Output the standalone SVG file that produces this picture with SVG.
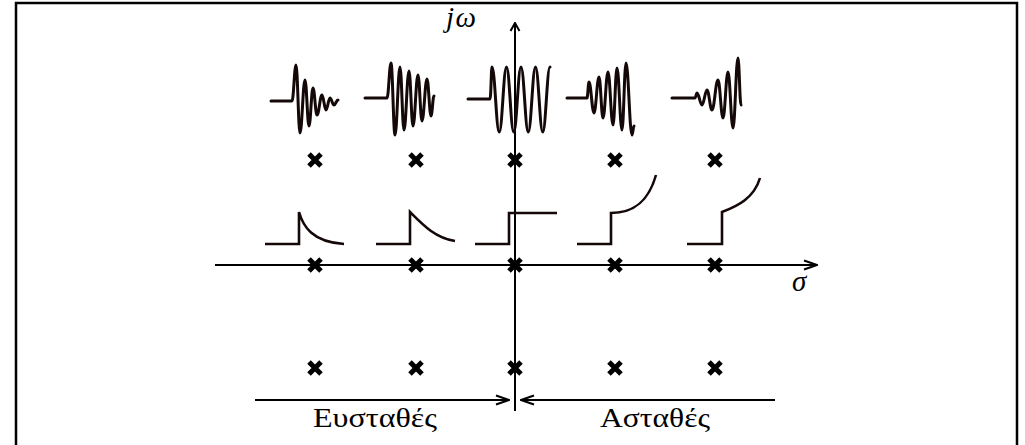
<svg xmlns="http://www.w3.org/2000/svg" width="1025" height="445" viewBox="0 0 1025 445">
<style>
.frame{fill:none;stroke:#000;stroke-width:2.5}
.ax{fill:none;stroke:#000;stroke-width:2}
.sig{fill:none;stroke:#140808;stroke-width:3;stroke-linejoin:round;stroke-linecap:round}
.step{fill:none;stroke:#140808;stroke-width:2.6;stroke-linejoin:miter}
.pole{stroke:#000;stroke-width:5;fill:none}
.lbl{font-family:"Liberation Serif","DejaVu Serif",serif;fill:#000}
.it{font-style:italic}
</style>
<defs>
<marker id="ahS" markerUnits="userSpaceOnUse" markerWidth="10" markerHeight="12" viewBox="-9 -6 10 12" refX="0" refY="0" orient="auto">
<path d="M-8,-4.5 L0,0 L-8,4.5" fill="none" stroke="#000" stroke-width="2"/>
</marker>
<marker id="ahL" markerUnits="userSpaceOnUse" markerWidth="16" markerHeight="12" viewBox="-15 -6 16 12" refX="0" refY="0" orient="auto">
<path d="M-13,-4.5 L0,0 L-13,4.5" fill="none" stroke="#000" stroke-width="2"/>
</marker>
<path id="x" d="M-6,-6 L6,6 M6,-6 L-6,6"/>
</defs>
<rect width="1025" height="445" fill="#fff"/>
<g id="frame">
<path class="frame" d="M16,450 V3 H1017 V450"/>
</g>
<g id="connectors">
<path class="ax" d="M515,411 V23" marker-end="url(#ahS)"/>
<path class="ax" d="M215,265 H817" marker-end="url(#ahL)"/>
<path class="ax" d="M255,400 H509" marker-end="url(#ahL)"/>
<path class="ax" d="M775,400 H521" marker-end="url(#ahL)"/>
</g>
<g id="labels">
<text class="lbl it" x="446" y="27" font-size="29" letter-spacing="1.5">jω</text>
<text class="lbl it" x="792" y="291" font-size="29">σ</text>
<text class="lbl" x="313" y="427" font-size="27" textLength="124" lengthAdjust="spacingAndGlyphs">Ευσταθές</text>
<text class="lbl" x="600" y="427" font-size="27" textLength="110" lengthAdjust="spacingAndGlyphs">Ασταθές</text>
</g>
<g id="col1">
<path class="sig" d="M271,101 H292 C293.6,101 294.4,65 296,65 C297.6,65 298.4,133 300,133 C302,133 303,80 305,80 C306.6,80 307.4,126 309,126 C310.6,126 311.4,88 313,88 C314.6,88 315.4,115 317,115 C319,115 320,95 322,95 C323.6,95 324.4,110 326,110 C327.6,110 328.4,98 330,98 C331.6,98 332.4,105 334,105 C335.6,105 336.4,100 338,100"/>
<path class="step" d="M265,244 H299 V212 C303,226 312,242 344,244"/>
<g class="pole"><use href="#x" x="315" y="160"/><use href="#x" x="315" y="265"/><use href="#x" x="315" y="368"/></g>
</g>
<g id="col2">
<path class="sig" d="M365,98 H387 C388.6,98 389.4,63 391,63 C392.6,63 393.4,135 395,135 C397,135 398,67 400,67 C401.6,67 402.4,130 404,130 C406,130 407,71 409,71 C410.6,71 411.4,126 413,126 C415,126 416,75 418,75 C419.6,75 420.4,121 422,121 C424,121 425,79 427,79 C428.6,79 429.4,116 431,116 C432.2,116 432.8,96 434,96"/>
<path class="step" d="M376,244 H410 V212 C422,224 435,238 455,241"/>
<g class="pole"><use href="#x" x="416" y="160"/><use href="#x" x="416" y="265"/><use href="#x" x="416" y="368"/></g>
</g>
<g id="col3">
<path class="sig" d="M468,99 H490 C491,99 491.2,67 492,67 C494.9,67 496.3,132 499.25,132 C502.15,132 503.6,67 506.5,67 C509.4,67 510.85,132 513.75,132 C516.65,132 518.1,67 521,67 C523.9,67 525.35,132 528.25,132 C531.15,132 532.6,67 535.5,67 C538.4,67 539.85,132 542.75,132 C545.65,132 547.1,67 550,67"/>
<path class="step" d="M475,244 H509 V213 H557"/>
<g class="pole"><use href="#x" x="515" y="160"/><use href="#x" x="515" y="265"/><use href="#x" x="515" y="368"/></g>
</g>
<g id="col4">
<path class="sig" d="M567,98 H587 C587.8,98 588.2,82 589,82 C591,82 592,113 594,113 C596,113 597,77 599,77 C600.6,77 601.4,118 603,118 C605,118 606,72 608,72 C610,72 611,125 613,125 C614.6,125 615.4,68 617,68 C619,68 620,130 622,130 C623.6,130 624.4,63 626,63 C628.4,63 629.6,135 632,135 C632.8,135 633.2,126 634,126"/>
<path class="step" d="M577,244 H611 V213 C628,213 647,207 656,175"/>
<g class="pole"><use href="#x" x="615" y="160"/><use href="#x" x="615" y="265"/><use href="#x" x="615" y="368"/></g>
</g>
<g id="col5">
<path class="sig" d="M672,98 H695 C695.8,98 696.2,93 697,93 C699,93 700,105 702,105 C704,105 705,90 707,90 C709,90 710,110 712,110 C714.4,110 715.6,80 718,80 C720,80 721,118 723,118 C725,118 726,72 728,72 C730,72 731,128 733,128 C735,128 736,58 738,58 C739.2,58 739.8,105 741,105"/>
<path class="step" d="M687,244 H722 V212 C738,206 754,198 760,178"/>
<g class="pole"><use href="#x" x="715" y="160"/><use href="#x" x="715" y="265"/><use href="#x" x="715" y="368"/></g>
</g>
</svg>
